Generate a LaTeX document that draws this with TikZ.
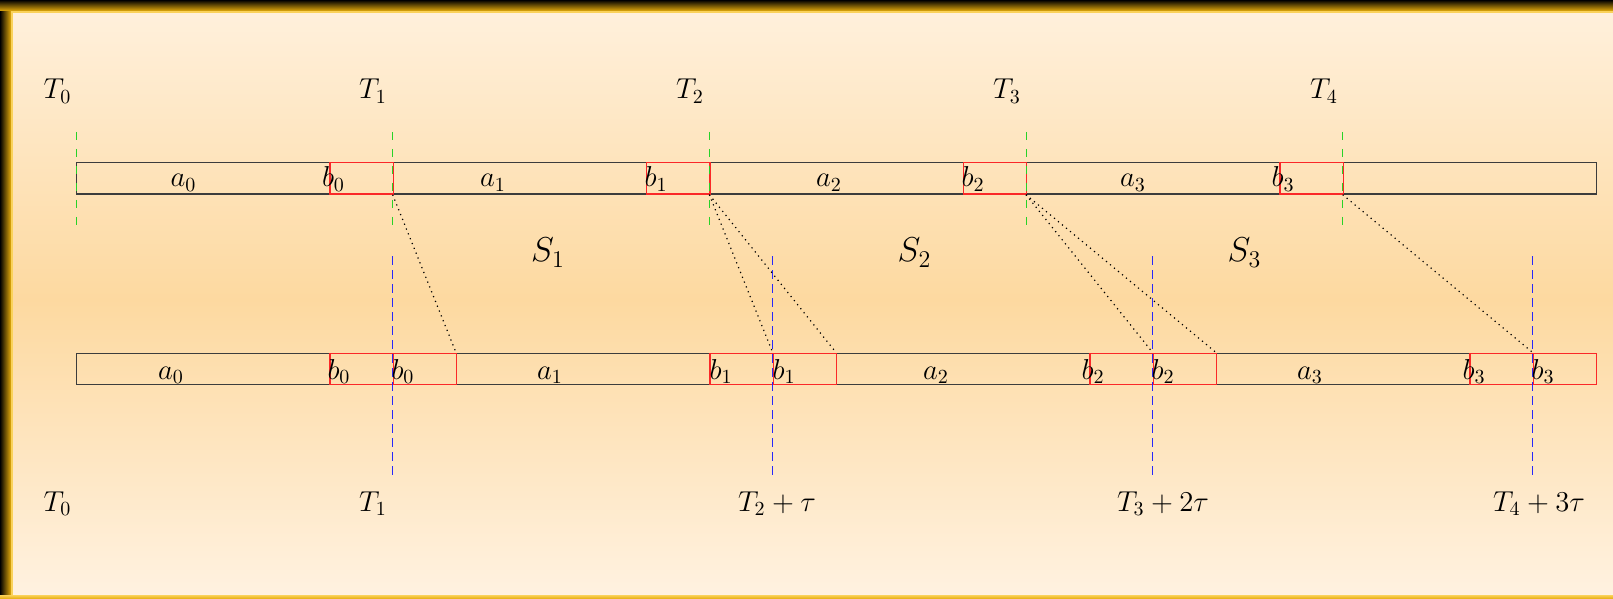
\documentclass[tikz,border=0pt]{standalone}
\definecolor{bgTop}{RGB}{255,241,222}
\definecolor{bgMid}{RGB}{253,217,160}
\definecolor{bgBot}{RGB}{255,242,225}
\definecolor{goldc}{RGB}{228,170,10}
\definecolor{goldl}{RGB}{250,210,90}
\definecolor{gline}{RGB}{40,210,40}
\definecolor{bline}{RGB}{40,40,250}
\definecolor{boxline}{RGB}{60,60,60}
\definecolor{redline}{RGB}{250,40,40}
\begin{document}
\begin{tikzpicture}[x=0.5pt,y=-0.5pt,
  abox/.style={draw=boxline, line width=0.6pt, rectangle, inner sep=0pt,
    minimum width=126.667pt, minimum height=15.75pt, anchor=north west},
  bbox/.style={abox, draw=redline, minimum width=31.667pt},
  lbl/.style={anchor=base, inner sep=0pt, font=\Large},
  slbl/.style={anchor=base, inner sep=0pt, font=\LARGE},
  gdash/.style={draw=gline, line width=0.5pt, dash pattern=on 4pt off 4.5pt},
  bdash/.style={draw=bline, line width=0.5pt, dash pattern=on 4.5pt off 2.5pt},
  conn/.style={draw=black, line width=0.6pt, dotted}]
\def\U{63.3333}
\useasboundingbox (0,0) rectangle (1613,599);
% background
\shade[top color=bgTop, bottom color=bgBot, middle color=bgMid] (0,0) rectangle (1613,599);
% frame
\shade[left color=black, right color=goldc] (0,0) rectangle (11,599);
\fill[goldl] (11,11) rectangle (13,599);
\shade[top color=black, bottom color=goldc] (0,0) rectangle (1613,11);
\fill[goldl] (11,11) rectangle (1613,13);
\shade[top color=goldl, bottom color=goldc] (0,595) rectangle (1613,599);

% top row
\node[abox] (tA0) at ({76+0*\U},162) {};
\node[abox] (tA1) at ({76+5*\U},162) {};
\node[abox] (tA2) at ({76+10*\U},162) {};
\node[abox] (tA3) at ({76+15*\U},162) {};
\node[abox] (tA4) at ({76+20*\U},162) {};
\node[bbox] (tB0) at ({76+4*\U},162) {};
\node[bbox] (tB1) at ({76+9*\U},162) {};
\node[bbox] (tB2) at ({76+14*\U},162) {};
\node[bbox] (tB3) at ({76+19*\U},162) {};

% bottom row
\node[abox] (bA0) at ({76+0*\U},352.5) {};
\node[abox] (bA1) at ({76+6*\U},352.5) {};
\node[abox] (bA2) at ({76+12*\U},352.5) {};
\node[abox] (bA3) at ({76+18*\U},352.5) {};
\node[bbox] (bB0) at ({76+4*\U},352.5) {};
\node[bbox] (bC0) at ({76+5*\U},352.5) {};
\node[bbox] (bB1) at ({76+10*\U},352.5) {};
\node[bbox] (bC1) at ({76+11*\U},352.5) {};
\node[bbox] (bB2) at ({76+16*\U},352.5) {};
\node[bbox] (bC2) at ({76+17*\U},352.5) {};
\node[bbox] (bB3) at ({76+22*\U},352.5) {};
\node[bbox] (bC3) at ({76+23*\U},352.5) {};

% green dashed lines
\draw[gdash] ({76+0*\U},132) -- ({76+0*\U},226);
\draw[gdash] ({76+5*\U},132) -- ({76+5*\U},226);
\draw[gdash] ({76+10*\U},132) -- ({76+10*\U},226);
\draw[gdash] ({76+15*\U},132) -- ({76+15*\U},226);
\draw[gdash] ({76+20*\U},132) -- ({76+20*\U},226);

% blue dashed lines
\draw[bdash] ({76+5*\U},256) -- ({76+5*\U},479);
\draw[bdash] ({76+11*\U},256) -- ({76+11*\U},479);
\draw[bdash] ({76+17*\U},256) -- ({76+17*\U},479);
\draw[bdash] ({76+23*\U},256) -- ({76+23*\U},479);

% dotted connectors
\draw[conn] (tA1.south west) -- (bA1.north west);
\draw[conn] (tA2.south west) -- (bC1.north west);
\draw[conn] (tA2.south west) -- (bA2.north west);
\draw[conn] (tA3.south west) -- (bC2.north west);
\draw[conn] (tA3.south west) -- (bA3.north west);
\draw[conn] (tA4.south west) -- (bC3.north west);

% top labels
\node[lbl] (la0) at (183.5,187) {$a_0$};
\node[lbl] (lb0) at (333.5,187) {$b_0$};
\node[lbl] (la1) at (493,187) {$a_1$};
\node[lbl] (lb1) at (656,187) {$b_1$};
\node[lbl] (la2) at (829,187) {$a_2$};
\node[lbl] (lb2) at (973,187) {$b_2$};
\node[lbl] (la3) at (1133,187) {$a_3$};
\node[lbl] (lb3) at (1283,187) {$b_3$};

% bottom labels
\node[lbl] (ma0) at (171,379) {$a_0$};
\node[lbl] (mb0) at (339,379) {$b_0$};
\node[lbl] (mc0) at (403,379) {$b_0$};
\node[lbl] (ma1) at (550,379) {$a_1$};
\node[lbl] (mb1) at (721,379) {$b_1$};
\node[lbl] (mc1) at (784,379) {$b_1$};
\node[lbl] (ma2) at (936,379) {$a_2$};
\node[lbl] (mb2) at (1093,379) {$b_2$};
\node[lbl] (mc2) at (1163,379) {$b_2$};
\node[lbl] (ma3) at (1310,379) {$a_3$};
\node[lbl] (mb3) at (1474,379) {$b_3$};
\node[lbl] (mc3) at (1543,379) {$b_3$};

% T labels
\node[lbl] (T0t) at (57.5,99) {$T_0$};
\node[lbl] (T1t) at (373,99) {$T_1$};
\node[lbl] (T2t) at (690,99) {$T_2$};
\node[lbl] (T3t) at (1007,99) {$T_3$};
\node[lbl] (T4t) at (1324,99) {$T_4$};
\node[lbl] (T0b) at (57.5,511) {$T_0$};
\node[lbl] (T1b) at (373,511) {$T_1$};
\node[lbl] (T2b) at (777,511) {$T_2+\tau$};
\node[lbl] (T3b) at (1163,511) {$T_3+2\tau$};
\node[lbl] (T4b) at (1539,511) {$T_4+3\tau$};

% S labels
\node[slbl] (S1) at (548,262) {$S_1$};
\node[slbl] (S2) at (914.5,262) {$S_2$};
\node[slbl] (S3) at (1244.5,262) {$S_3$};
\end{tikzpicture}
\end{document}
